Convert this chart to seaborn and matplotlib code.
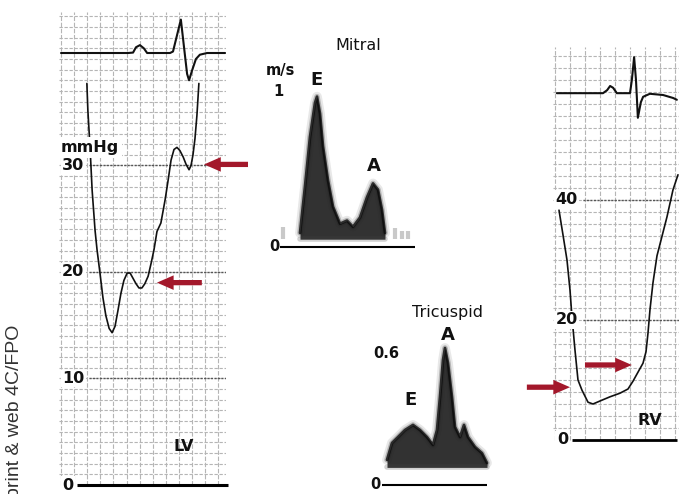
import matplotlib
matplotlib.use("Agg")
import matplotlib.pyplot as plt
import seaborn as sns
import numpy as np

sns.set_theme(style="white")
plt.rcParams['font.family'] = ['DejaVu Sans']

# ---------------- data ----------------
# LV panel: time (ms) vs pressure (mmHg); ECG drawn on the same paper
lv_ecg_t = [0, 205, 220, 229, 241, 253, 263, 333, 342, 354, 366, 376, 385, 391, 400, 412, 424, 446, 501]
lv_ecg_y = [40.56, 40.56, 40.6, 41.1, 41.3, 41.0, 40.56, 40.56, 40.7, 42.2, 43.7, 41.0, 38.6, 38.0,
            38.9, 40.0, 40.4, 40.56, 40.56]
lv_t = [79, 82, 89, 95, 104, 110, 119, 128, 137, 147, 156, 165, 174, 183, 192, 202, 211, 220, 229, 238,
        247, 256, 266, 275, 284, 293, 305, 318, 327, 336, 345, 354, 363, 373, 382, 391, 397, 403, 409,
        415, 421]
lv_p = [37.7, 35.2, 31.5, 27.7, 23.9, 22.1, 19.9, 17.6, 15.9, 14.7, 14.3, 14.9, 16.4, 18.0, 19.2, 19.9,
        19.9, 19.4, 18.9, 18.5, 18.5, 18.9, 19.6, 20.8, 22.1, 23.8, 24.6, 26.8, 28.6, 30.5, 31.5, 31.7,
        31.4, 30.8, 30.1, 29.6, 30.0, 31.0, 32.5, 34.7, 37.7]
lv_ticks = [0, 10, 20, 30]
lv_arrows = [(571, 30.1, 437, 30.1), (430, 19.0, 293, 19.0)]  # tail_t, tail_p, tip_t, tip_p

# RV panel
rv_ecg_t = [5, 128, 139, 147, 155, 165, 200, 205, 211, 216, 221, 229, 235, 253, 288, 315, 325]
rv_ecg_y = [57.8, 57.8, 58.3, 59.0, 58.7, 57.8, 57.8, 60.0, 63.8, 60.0, 53.7, 56.3, 57.2, 57.7, 57.5,
            57.0, 56.7]
rv_t = [10.7, 21.3, 32, 40, 45.3, 53.3, 61.3, 72, 88, 101.3, 120, 146.7, 173.3, 194.7, 208, 221.3,
        234.7, 242.7, 248, 253.3, 261.3, 272, 282.7, 298.7, 314.7, 328]
rv_p = [38.3, 34.2, 30.0, 25.0, 20.5, 15.0, 10.0, 8.3, 6.3, 6.0, 6.5, 7.2, 7.8, 8.5, 9.8, 11.3, 12.8,
        14.7, 17.8, 21.7, 26.2, 30.7, 33.3, 37.2, 41.7, 44.2]
rv_ticks = [0, 20, 40]
rv_arrows = [(-75, 8.8, 40, 8.8), (80, 12.5, 205, 12.5)]

# Mitral Doppler: time (ms) vs velocity (m/s)
mitral_t = [45, 60, 75, 90, 96, 105, 114, 129, 144, 165, 186, 204, 225, 246, 264, 279, 291, 300]
mitral_v = [0.09, 0.39, 0.71, 0.93, 0.97, 0.86, 0.65, 0.43, 0.26, 0.15, 0.17, 0.13, 0.19, 0.32, 0.41,
            0.37, 0.24, 0.09]
mitral_speck_t = [-6, 330, 351, 369]
mitral_speck_v = [0.13, 0.12, 0.10, 0.10]

# Tricuspid Doppler
tric_t = [21, 36, 54, 75, 99, 120, 141, 159, 171, 180, 189, 195, 204, 216, 225, 240, 252, 264, 285, 306, 321]
tric_v = [0.114, 0.191, 0.218, 0.25, 0.273, 0.25, 0.218, 0.182, 0.25, 0.40, 0.568, 0.623, 0.555, 0.40,
          0.264, 0.218, 0.273, 0.218, 0.173, 0.145, 0.10]

RED = '#a3182b'
GRID = '#b5b5b5'

W, H = 679, 494
fig = plt.figure(figsize=(W / 100, H / 100), dpi=100)
fig.patch.set_facecolor('white')


def px_axes(x0, y0, x1, y1):
    ax = fig.add_axes([x0 / W, 1 - y1 / H, (x1 - x0) / W, (y1 - y0) / H])
    ax.axis('off')
    ax.patch.set_alpha(0)
    return ax


def paper_grid(ax, xs, ys, x0, x1, y0, y1):
    ax.vlines(xs, y0, y1, color=GRID, lw=0.8, linestyle=(0, (4, 1.5)), zorder=0)
    ax.hlines(ys, x0, x1, color=GRID, lw=0.8, linestyle=(0, (3, 1.5)), zorder=0)


def red_arrow(ax, a):
    ax.annotate('', xy=(a[2], a[3]), xytext=(a[0], a[1]), xycoords='data', textcoords='data',
                arrowprops=dict(arrowstyle='simple,head_length=1.2,head_width=1.05,tail_width=0.38',
                                color=RED, shrinkA=0, shrinkB=0, mutation_scale=10, lw=0),
                annotation_clip=False)


def doppler(ax, t, v, base):
    for lw, a in [(7, 0.10), (4, 0.25)]:
        ax.plot(t, v, color='#222222', lw=lw, alpha=a, solid_joinstyle='round',
                solid_capstyle='round', zorder=1)
    ax.fill_between(t, base, v, color='#1c1c1c', alpha=0.9, lw=0, zorder=2)
    ax.plot(t, v, color='#0a0a0a', lw=2.0, alpha=0.8, solid_joinstyle='round', zorder=3)
    ax.plot(t, [base] * len(t), color='#444444', lw=4, alpha=0.25, zorder=2)


lbl = dict(fontweight='bold', fontsize=11.5, color='#111111')
white_box = dict(facecolor='white', edgecolor='none', pad=1.0)

# ---------------- LV panel ----------------
ax = px_axes(59, 12, 226, 492)
ax.set_xlim(-6.1, 503.8)
ax.set_ylim(-0.657, 44.41)
paper_grid(ax, np.arange(0, 481, 40), np.arange(1, 45, 1), -6.1, 503.8, 0, 44.41)
for v in lv_ticks[1:]:
    ax.hlines(v, 85, 503.8, color='#555555', lw=1.0, linestyle=(0, (1.5, 1)), zorder=1)
ax.hlines(0, 49, 510, color='black', lw=2.2, zorder=4, clip_on=False)
sns.lineplot(x=lv_ecg_t, y=lv_ecg_y, ax=ax, sort=False, estimator=None, color='#111111', lw=1.5)
sns.lineplot(x=lv_t, y=lv_p, ax=ax, sort=False, estimator=None, color='#111111', lw=1.2)
for v in lv_ticks:
    ax.text(3, v, str(v), ha='left', va='center', bbox=white_box, zorder=5, **lbl)
ax.text(0, 31.7, 'mmHg', ha='left', va='center', bbox=dict(facecolor='white', edgecolor='none', pad=2),
        zorder=5, **lbl)
ax.text(376, 3.6, 'LV', ha='center', va='center', zorder=5, **lbl)
for a in lv_arrows:
    red_arrow(ax, a)

# ---------------- Mitral ----------------
axm = px_axes(262, 30, 425, 262)
axm.set_xlim(-69, 420)
axm.set_ylim(-0.097, 1.40)
doppler(axm, mitral_t, mitral_v, 0.05)
axm.vlines(mitral_speck_t, 0.05, mitral_speck_v, color='#666666', lw=3, alpha=0.35)
axm.hlines(0, -15, 390, color='black', lw=1.5)
axm.text(219, 1.30, 'Mitral', ha='center', va='center', fontsize=11.5, color='#111111')
axm.text(-15, 1.14, 'm/s', ha='center', va='center', fontsize=10.5, fontweight='bold', color='#111111')
axm.text(-21, 1.0, '1', ha='center', va='center', fontsize=10.5, fontweight='bold', color='#111111')
axm.text(96, 1.08, 'E', ha='center', va='center', fontsize=13, fontweight='bold', color='#111111')
axm.text(267, 0.52, 'A', ha='center', va='center', fontsize=13, fontweight='bold', color='#111111')
axm.text(-33, 0, '0', ha='center', va='center', fontsize=10.5, fontweight='bold', color='#111111')

# ---------------- Tricuspid ----------------
axt = px_axes(355, 295, 495, 494)
axt.set_xlim(-75, 345)
axt.set_ylim(-0.041, 0.864)
doppler(axt, tric_t, tric_v, 0.08)
axt.hlines(0, 6, 321, color='black', lw=1.5)
axt.text(201, 0.786, 'Tricuspid', ha='center', va='center', fontsize=11.5, color='#111111')
axt.text(204, 0.68, 'A', ha='center', va='center', fontsize=13, fontweight='bold', color='#111111')
axt.text(18, 0.6, '0.6', ha='center', va='center', fontsize=10.5, fontweight='bold', color='#111111')
axt.text(90, 0.386, 'E', ha='center', va='center', fontsize=13, fontweight='bold', color='#111111')
axt.text(-15, 0, '0', ha='center', va='center', fontsize=10.5, fontweight='bold', color='#111111')

# ---------------- RV panel ----------------
axr = px_axes(553, 45, 679, 452)
axr.set_xlim(-5.3, 330.7)
axr.set_ylim(-2.0, 65.83)
paper_grid(axr, np.arange(0, 321, 40), np.arange(2, 65, 2), -5.3, 330.7, 0, 65.5)
for v in rv_ticks[1:]:
    axr.hlines(v, 75, 330.7, color='#555555', lw=1.0, linestyle=(0, (1.5, 1)), zorder=1)
axr.hlines(0, 45, 325, color='black', lw=2.0, zorder=4)
sns.lineplot(x=rv_ecg_t, y=rv_ecg_y, ax=axr, sort=False, estimator=None, color='#111111', lw=1.5)
sns.lineplot(x=rv_t, y=rv_p, ax=axr, sort=False, estimator=None, color='#111111', lw=1.2)
for v in rv_ticks:
    axr.text(2 if v else 5, v, str(v), ha='left', va='center', bbox=white_box, zorder=5, **lbl)
axr.text(253, 3.3, 'RV', ha='center', va='center', zorder=5, **lbl)
for a in rv_arrows:
    red_arrow(axr, a)

fig.text(15 / W, 1 - 325 / H, 'print & web 4C/FPO', rotation=90, ha='center', va='top',
         fontsize=14, family=['Liberation Sans', 'DejaVu Sans'], color='#333333')

fig.savefig('out.png', dpi=100, facecolor='white')
